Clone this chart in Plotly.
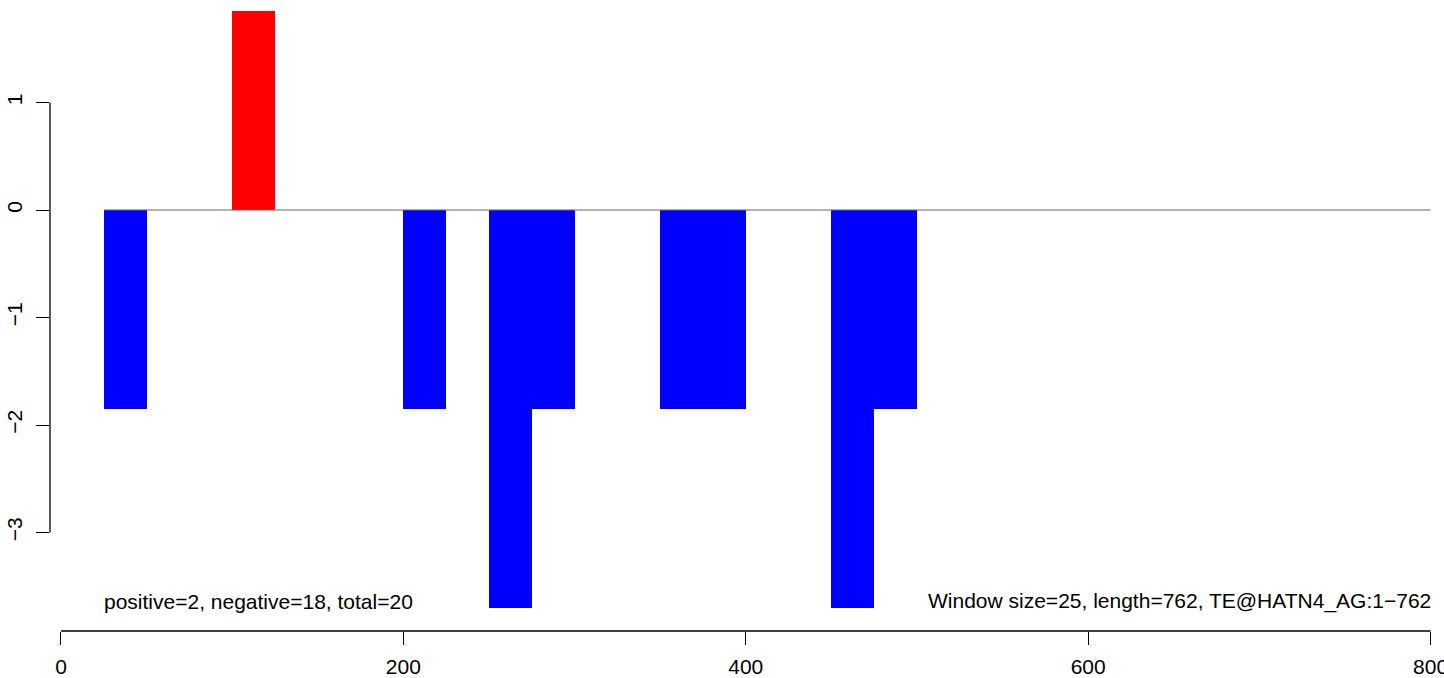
import plotly.graph_objects as go

# Data
window_starts = [25, 100, 200, 250, 275, 350, 375, 450, 475]
window_values = [-1.85, 1.85, -1.85, -3.7, -1.85, -1.85, -1.85, -3.7, -1.85]
window_size = 25
x_ticks = [0, 200, 400, 600, 800]
y_ticks = [-3, -2, -1, 0, 1]
left_label = "positive=2, negative=18, total=20"
right_label = "Window size=25, length=762, TE@HATN4_AG:1\u2212762"

centers = [s + window_size / 2 for s in window_starts]
colors = ["#FF0000" if v > 0 else "#0000FF" for v in window_values]

fig = go.Figure()
fig.add_trace(go.Bar(
    x=centers, y=window_values, width=[window_size] * len(centers),
    marker=dict(color=colors, line=dict(width=0)),
    showlegend=False, hoverinfo="x+y",
))

font = dict(family="Liberation Sans, Arial, sans-serif", size=21, color="black")

fig.update_layout(
    width=1444, height=678,
    margin=dict(l=50, r=9.575, t=0, b=47, autoexpand=False),
    paper_bgcolor="white", plot_bgcolor="white",
    font=font,
    bargap=0,
    xaxis=dict(range=[-6.42, 802], tickvals=x_ticks, ticks="outside", ticklen=13,
               tickwidth=1, tickcolor="black", showgrid=False, zeroline=False,
               showline=False, automargin=False, ticklabelstandoff=4,
               ticklabeloverflow="allow"),
    yaxis=dict(range=[-3.916, 1.9535], tickvals=y_ticks, ticks="outside", ticklen=13,
               tickwidth=1, tickcolor="black", showgrid=False, zeroline=False,
               showline=False, tickangle=-90, automargin=False, ticklabelstandoff=6),
    shapes=[
        dict(type="line", xref="x", yref="paper", x0=x_ticks[0], x1=x_ticks[-1], y0=0, y1=0,
             line=dict(color="black", width=1.3)),
        dict(type="line", xref="paper", yref="y", x0=0, x1=0, y0=y_ticks[0], y1=y_ticks[-1],
             line=dict(color="black", width=1.3)),
        dict(type="line", xref="x", yref="y", x0=window_starts[0], x1=800, y0=0, y1=0,
             line=dict(color="#666666", width=1), layer="above"),
    ],
    annotations=[
        dict(text=left_label, x=window_starts[0], y=-3.637, xref="x", yref="y",
             xanchor="left", yanchor="middle", showarrow=False, font=font, xshift=-2),
        dict(text=right_label, x=800, y=-3.637, xref="x", yref="y",
             xanchor="right", yanchor="middle", showarrow=False, font=font, xshift=2),
    ],
)

fig.write_html("out.html", post_script="document.body.style.margin='0';",
               config={"displayModeBar": False})
